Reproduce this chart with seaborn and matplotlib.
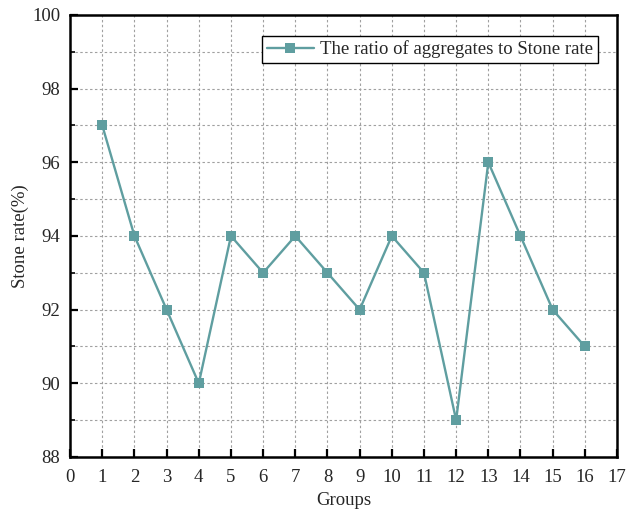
import matplotlib
matplotlib.use("Agg")
import matplotlib.pyplot as plt
from matplotlib.ticker import MultipleLocator
import seaborn as sns
import pandas as pd

groups = [1, 2, 3, 4, 5, 6, 7, 8, 9, 10, 11, 12, 13, 14, 15, 16]
stone_rate = [97, 94, 92, 90, 94, 93, 94, 93, 92, 94, 93, 89, 96, 94, 92, 91]
series_label = "The ratio of aggregates to Stone rate"

df = pd.DataFrame({"Groups": groups, "Stone rate(%)": stone_rate})

sns.set_style("white")
plt.rcParams["font.family"] = ["Liberation Serif", "DejaVu Serif"]

fig = plt.figure(figsize=(6.26, 5.11), dpi=100)
ax = fig.add_axes([0.112, 0.1057, 0.8736, 0.865])

color = "#5F9EA0"
sns.lineplot(data=df, x="Groups", y="Stone rate(%)", ax=ax, color=color,
             linewidth=1.7, marker="s", markersize=7.0, markeredgewidth=0,
             label=series_label)

ax.set_xlim(0, 17)
ax.set_ylim(88, 100)
ax.xaxis.set_major_locator(MultipleLocator(1))
ax.yaxis.set_major_locator(MultipleLocator(2))
ax.yaxis.set_minor_locator(MultipleLocator(1))

grid_style = dict(linestyle=(0, (2.2, 2.2)), color="#a0a0a0", linewidth=0.8)
ax.grid(True, which="both", axis="y", **grid_style)
ax.grid(True, which="major", axis="x", **grid_style)
ax.set_axisbelow(True)

for side in ["left", "bottom", "top", "right"]:
    ax.spines[side].set_visible(True)
    ax.spines[side].set_color("black")
    ax.spines[side].set_linewidth(1.8)

ax.tick_params(axis="both", which="major", direction="in", length=6, width=1.6,
               labelsize=13.5, color="black")
ax.tick_params(axis="x", which="major", pad=9)
ax.tick_params(axis="y", which="major", pad=7)
ax.tick_params(axis="y", which="minor", direction="in", length=3.5, width=1.4, left=True)
ax.tick_params(bottom=True, left=True, top=False, right=False)

ax.set_xlabel("Groups", fontsize=13.5, labelpad=4)
ax.set_ylabel("Stone rate(%)", fontsize=13.5, labelpad=2)

leg = ax.legend(loc="upper right", bbox_to_anchor=(0.9653, 0.953), fontsize=13.5,
                frameon=True, fancybox=False, edgecolor="black", framealpha=1,
                borderpad=0.25, borderaxespad=0, handlelength=2.5, handletextpad=0.35)
leg.get_frame().set_linewidth(1.0)

fig.savefig("out.png", dpi=100)
